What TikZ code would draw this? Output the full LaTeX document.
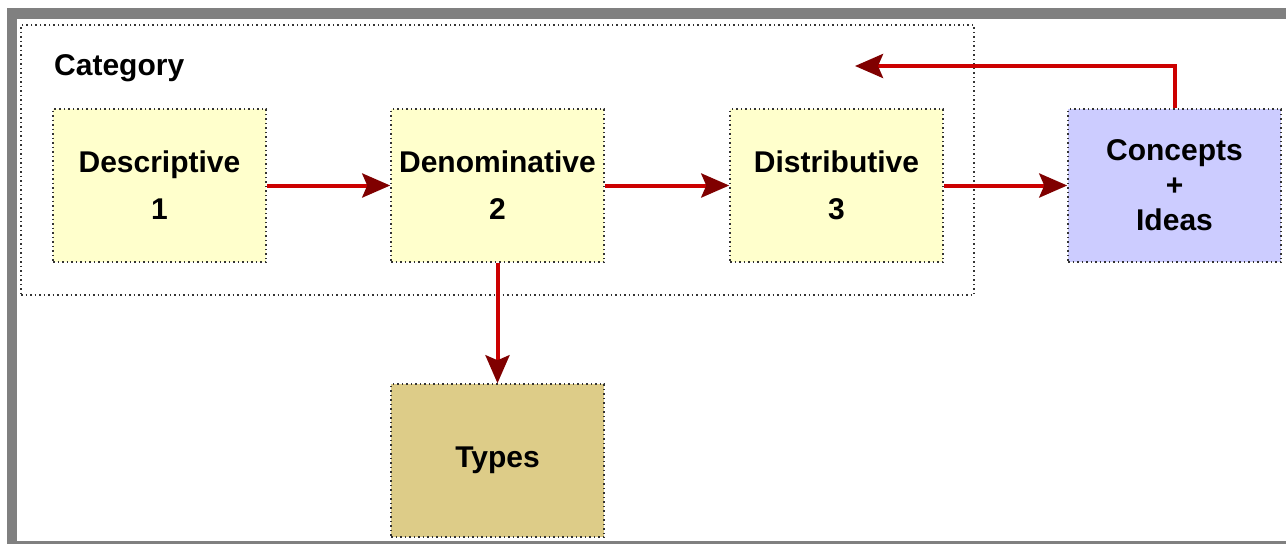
\documentclass[tikz,border=0pt]{standalone}
\usepackage{fontspec}
\setmainfont{Liberation Sans}
\usetikzlibrary{arrows.meta}
\definecolor{framegray}{HTML}{808080}
\definecolor{boxyellow}{HTML}{FFFFCC}
\definecolor{boxblue}{HTML}{CCCCFF}
\definecolor{boxtan}{HTML}{DDCC88}
\definecolor{linered}{HTML}{CC0000}
\definecolor{tipred}{HTML}{800000}
\tikzset{
  dotline/.style={draw=black!80, line width=1.5pt, dash pattern=on 1.5pt off 3pt},
  stepbox/.style={dotline, minimum width=213pt, minimum height=153pt, inner sep=0pt, align=center,
    font=\fontsize{30}{35}\selectfont\bfseries},
  flow/.style={draw=linered, line width=4pt,
    -{Stealth[length=28pt,width=24pt,inset=5pt,color=tipred]}}
}
\begin{document}
\begin{tikzpicture}[x=1pt,y=-1pt]
\useasboundingbox (0,0) rectangle (1286,544);
\fill[framegray] (7,8) rectangle (1290,544);
\fill[white] (17,19) rectangle (1290,541);
\node[dotline, minimum width=953pt, minimum height=270pt, inner sep=0pt] (cat) at (497.5,160) {};
\node[anchor=base west, font=\fontsize{30}{35}\selectfont\bfseries, inner sep=0pt] (catlabel) at (54,75) {Category};
\node[stepbox, fill=boxyellow] (d1) at (159.5,185.5) {Descriptive\\[12pt]1};
\node[stepbox, fill=boxyellow] (d2) at (497.5,185.5) {Denominative\\[12pt]2};
\node[stepbox, fill=boxyellow] (d3) at (836.5,185.5) {Distributive\\[12pt]3};
\node[stepbox, fill=boxblue] (ci) at (1174.5,185.5) {Concepts\\+\\Ideas};
\node[stepbox, fill=boxtan] (ty) at (497.5,460.5) {Types};
\coordinate (back) at (855,66);
\draw[flow] (d1.east) -- (d2.west);
\draw[flow] (d2.east) -- (d3.west);
\draw[flow] (d3.east) -- (ci.west);
\draw[flow] (d2.south) -- (ty.north);
\draw[flow] (ci.north) |- (back);
\end{tikzpicture}
\end{document}
